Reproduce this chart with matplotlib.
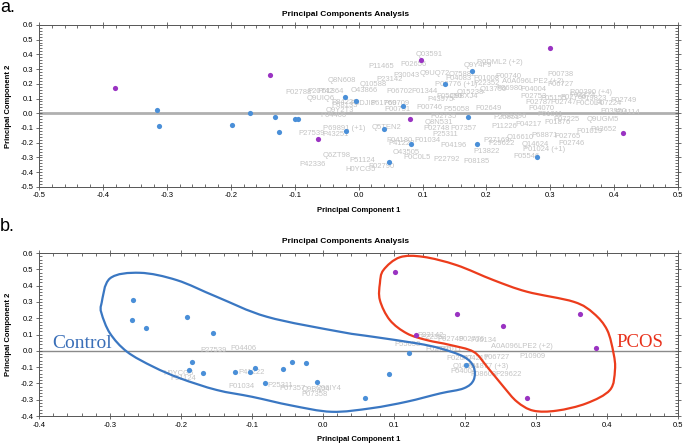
import numpy as np
import matplotlib
matplotlib.use("Agg")
import matplotlib.pyplot as plt
from matplotlib.path import Path
from matplotlib.patches import PathPatch
from matplotlib.ticker import MultipleLocator, FormatStrFormatter

plt.rcParams['font.family'] = ['Liberation Sans', 'DejaVu Sans']
plt.rcParams['axes.unicode_minus'] = False

# ---- panel a: scores ----
a_ctrl_x = [-0.316, -0.313, -0.198, -0.170, -0.131, -0.125, -0.100, -0.095, -0.022, -0.020,
            -0.004, 0.070, 0.135, 0.177, 0.171, 0.039, 0.082, 0.185, 0.047, 0.279]
a_ctrl_y = [0.023, -0.086, -0.079, 0.000, -0.025, -0.124, -0.040, -0.038, 0.113, -0.120,
            0.086, 0.048, 0.202, 0.290, -0.023, -0.108, -0.208, -0.208, -0.330, -0.294]
a_pcos_x = [-0.381, -0.139, -0.064, 0.098, 0.300, 0.081, 0.413]
a_pcos_y = [0.174, 0.263, -0.172, 0.360, 0.446, -0.040, -0.135]

# ---- panel a: loadings (protein labels) ----
a_lab = ["P11465", "Q8N608", "P02788", "P20742", "P61364", "Q9UIQ6", "P84228", "O43866",
         "Q10588", "P04406", "Q9Y2T3", "P69891 (+1)", "P27539", "P43251", "Q6ZT98", "P42336",
         "P51124", "H0YCG5", "P02790", "Q03591", "P02656", "P0DML2 (+2)", "Q9Y4F9", "Q9UQ72",
         "P30043", "O75882", "P04083", "P01008", "P00740", "P02776 (+1)", "P22352",
         "A0A096LPE2 (+2)", "Q13790", "P36980", "Q15238", "P05090", "Q9BXJ4", "P06702",
         "P01344", "P43975", "P60709", "P00746", "P02649", "P55058", "P20851", "Q8N531",
         "P02735", "Q5TEN2", "P07357", "P02748", "P25311", "P04180", "P41222", "P01034",
         "P04196", "P27169", "P29622", "P13822", "P22792", "P08185", "O43505", "P0C0L5",
         "P00738", "P06727", "P04004", "P00390 (+4)", "P02753", "P05155", "P02760", "P19823",
         "P02787", "P02747", "P0C0L4", "P07224", "P02749", "P03950", "P01011", "P04114",
         "P07225", "Q9UGM5", "P01019", "P43652", "P02765", "P02746", "Q14624", "P01024 (+1)",
         "P05546", "P68871", "Q16610", "P11226", "P04217", "P06396", "P23142", "P0DJI8",
         "P61769", "P00751", "P68133", "P04070", "P01876", "P02774"]
a_lab_x = [0.015, -0.048, -0.115, -0.080, -0.065, -0.081, -0.042, -0.013,
           0.002, -0.060, -0.052, -0.056, -0.095, -0.056, -0.056, -0.093,
           -0.015, -0.021, 0.016, 0.090, 0.066, 0.185, 0.164, 0.096,
           0.054, 0.141, 0.135, 0.180, 0.214, 0.120, 0.179,
           0.225, 0.190, 0.215, 0.153, 0.122, 0.143, 0.044,
           0.082, 0.107, 0.039, 0.091, 0.182, 0.133, 0.211, 0.104,
           0.112, 0.021, 0.143, 0.101, 0.115, 0.044, 0.047, 0.088,
           0.128, 0.195, 0.203, 0.180, 0.117, 0.164, 0.054, 0.070,
           0.295, 0.295, 0.253, 0.331, 0.253, 0.284, 0.315, 0.347,
           0.261, 0.300, 0.339, 0.370, 0.394, 0.378, 0.279, 0.400,
           0.304, 0.357, 0.341, 0.362, 0.307, 0.313, 0.255, 0.257,
           0.242, 0.271, 0.231, 0.208, 0.245, 0.222, 0.028, -0.013,
           0.018, 0.041, -0.042, 0.265, 0.290, 0.330]
a_lab_y = [0.317, 0.222, 0.143, 0.147, 0.147, 0.098, 0.072, 0.154,
           0.193, -0.018, 0.016, -0.106, -0.140, -0.145, -0.289, -0.350,
           -0.321, -0.380, -0.362, 0.401, 0.330, 0.344, 0.322, 0.272,
           0.254, 0.265, 0.238, 0.238, 0.249, 0.193, 0.200,
           0.215, 0.163, 0.166, 0.140, 0.113, 0.113, 0.147,
           0.147, 0.091, 0.068, 0.037, 0.034, 0.023, -0.027, -0.063,
           -0.022, -0.097, -0.101, -0.101, -0.147, -0.185, -0.203, -0.185,
           -0.221, -0.185, -0.208, -0.260, -0.312, -0.328, -0.267, -0.298,
           0.265, 0.193, 0.163, 0.140, 0.111, 0.098, 0.104, 0.098,
           0.070, 0.070, 0.064, 0.064, 0.084, 0.010, -0.011, 0.003,
           -0.045, -0.045, -0.124, -0.108, -0.158, -0.203, -0.215, -0.249,
           -0.294, -0.154, -0.165, -0.090, -0.079, -0.022, 0.231, 0.063,
           0.063, 0.023, 0.050, 0.035, -0.060, 0.120]

# ---- panel b: scores ----
b_ctrl_x = [-0.268, -0.269, -0.249, -0.192, -0.155, -0.184, -0.189, -0.169, -0.124, -0.103,
            -0.096, -0.082, -0.056, -0.044, -0.024, -0.008, 0.059, 0.093, 0.121, 0.201]
b_ctrl_y = [0.312, 0.189, 0.142, 0.209, 0.107, -0.067, -0.120, -0.134, -0.128, -0.128,
            -0.106, -0.198, -0.110, -0.071, -0.077, -0.190, -0.290, -0.140, -0.013, -0.085]
b_pcos_x = [0.101, 0.131, 0.189, 0.254, 0.362, 0.385, 0.287]
b_pcos_y = [0.486, 0.095, 0.226, 0.152, 0.226, 0.015, -0.290]

b_lab = ["P27539", "P04406", "H0YCG5", "P51124", "P41222", "P01034", "P25311", "P07357",
         "Q9BXJ4", "Q96IY4", "P07358", "P23142", "P22352", "P02749", "P02776", "P06134",
         "P55058", "P02766", "P01011", "A0A096LPE2 (+2)", "P02647", "P04217", "P06727",
         "P10909", "Q14624", "P01877 (+3)", "P04004", "P08603", "P29622"]
b_lab_x = [-0.173, -0.130, -0.225, -0.215, -0.119, -0.134, -0.079, -0.061,
           -0.030, -0.011, -0.030, 0.133, 0.137, 0.161, 0.190, 0.207,
           0.101, 0.144, 0.159, 0.236, 0.174, 0.196, 0.226,
           0.276, 0.183, 0.201, 0.179, 0.207, 0.242]
b_lab_y = [0.005, 0.015, -0.138, -0.169, -0.134, -0.220, -0.210, -0.230,
           -0.236, -0.230, -0.265, 0.097, 0.079, 0.072, 0.072, 0.066,
           0.036, 0.011, 0.011, 0.029, -0.046, -0.046, -0.040,
           -0.036, -0.098, -0.098, -0.128, -0.148, -0.148]

# hand-drawn group outlines (panel b)
ctrl_outline_x = [-0.312, -0.300, -0.258, -0.206, -0.150, -0.079, 0.024, 0.071, 0.132, 0.165,
                  0.198, 0.212, 0.212, 0.198, 0.165, 0.118, 0.068, 0.012, -0.045, -0.100,
                  -0.150, -0.201, -0.239, -0.276, -0.300, -0.312]
ctrl_outline_y = [0.291, 0.445, 0.479, 0.434, 0.332, 0.209, 0.117, 0.086, 0.046, 0.015,
                  -0.036, -0.098, -0.179, -0.230, -0.261, -0.312, -0.352, -0.374, -0.335, -0.282,
                  -0.240, -0.169, -0.098, -0.006, 0.107, 0.230]
pcos_outline_x = [0.085, 0.108, 0.141, 0.188, 0.240, 0.287, 0.353, 0.381, 0.400, 0.409,
                  0.411, 0.404, 0.371, 0.329, 0.296, 0.273, 0.254, 0.231, 0.212, 0.179,
                  0.146, 0.118, 0.094, 0.080, 0.080]
pcos_outline_y = [0.496, 0.574, 0.577, 0.526, 0.434, 0.363, 0.301, 0.230, 0.128, -0.015,
                  -0.118, -0.240, -0.322, -0.367, -0.367, -0.312, -0.220, -0.098, -0.006, 0.036,
                  0.066, 0.107, 0.189, 0.311, 0.414]

BLUE = '#4a8fd8'
PURPLE = '#9a33c2'
LABEL_GRAY = '#c4c4c4'


def closed_curve(xs, ys):
    # smooth closed outline through the points (Catmull-Rom as cubic Beziers)
    p = np.column_stack([xs, ys])
    n = len(p)
    verts = [p[0]]
    codes = [Path.MOVETO]
    for i in range(n):
        p0, p1, p2, p3 = p[i - 1], p[i], p[(i + 1) % n], p[(i + 2) % n]
        verts += [p1 + (p2 - p0) / 6, p2 - (p3 - p1) / 6, p2]
        codes += [Path.CURVE4] * 3
    return Path(verts, codes)


def style_axes(ax, xlim, ylim, zero_lw, zero_color):
    ax.set_xlim(*xlim)
    ax.set_ylim(*ylim)
    ax.axhline(0, color=zero_color, lw=zero_lw, zorder=1)
    ax.xaxis.set_major_locator(MultipleLocator(0.1))
    ax.yaxis.set_major_locator(MultipleLocator(0.1))
    ax.xaxis.set_minor_locator(MultipleLocator(0.02))
    ax.yaxis.set_minor_locator(MultipleLocator(0.02))
    ax.xaxis.set_major_formatter(FormatStrFormatter('%.1f'))
    ax.yaxis.set_major_formatter(FormatStrFormatter('%.1f'))
    ax.tick_params(which='both', top=True, right=True, labelsize=5.5, color='#555555', width=0.6)
    ax.tick_params(which='major', direction='inout', length=4, pad=2)
    ax.tick_params(which='minor', direction='in', length=2)
    for s in ax.spines.values():
        s.set_color('#555555')
        s.set_linewidth(0.7)


def draw_panel(ax, cx, cy, px, py, labs, lx, ly):
    for t, x, y in zip(labs, lx, ly):
        ax.text(x, y, t, fontsize=5.5, color=LABEL_GRAY, va='center', ha='left',
                zorder=2, clip_on=True)
    ax.scatter(cx, cy, s=14, color=BLUE, zorder=4, linewidths=0)
    ax.scatter(px, py, s=14, color=PURPLE, zorder=4, linewidths=0)


fig = plt.figure(figsize=(6.85, 4.44), dpi=100)

ax1 = fig.add_axes([0.057, 0.579, 0.933, 0.365])
style_axes(ax1, (-0.5, 0.5), (-0.5, 0.6), 2.0, '#b0b0b0')
draw_panel(ax1, a_ctrl_x, a_ctrl_y, a_pcos_x, a_pcos_y, a_lab, a_lab_x, a_lab_y)

ax2 = fig.add_axes([0.057, 0.063, 0.933, 0.367])
style_axes(ax2, (-0.4, 0.5), (-0.4, 0.6), 1.0, '#8a8a8a')
draw_panel(ax2, b_ctrl_x, b_ctrl_y, b_pcos_x, b_pcos_y, b_lab, b_lab_x, b_lab_y)
ax2.add_patch(PathPatch(closed_curve(ctrl_outline_x, ctrl_outline_y), fill=False,
                        edgecolor='#3a77c2', lw=1.6, zorder=3))
ax2.add_patch(PathPatch(closed_curve(pcos_outline_x, pcos_outline_y), fill=False,
                        edgecolor='#ec3c1c', lw=1.6, zorder=3))
ax2.text(-0.382, 0.017, "Control", family=['Liberation Serif', 'DejaVu Serif'],
         fontsize=14, color='#3a6fb8', va='baseline', ha='left', zorder=5)
ax2.text(0.413, 0.024, "PCOS", family=['Liberation Serif', 'DejaVu Serif'],
         fontsize=13.5, color='#e8301a', va='baseline', ha='left', zorder=5)

for ax, ty, xy in [(ax1, 0.968, 0.525), (ax2, 0.455, 0.011)]:
    fig.text(0.504, ty, "Principal Components Analysis", fontsize=6, weight='bold',
             ha='center', va='center')
    fig.text(0.523, xy, "Principal Component 1", fontsize=5.5, weight='bold',
             ha='center', va='center')
    pos = ax.get_position()
    fig.text(0.012, pos.y0 + pos.height / 2, "Principal Component 2", fontsize=5.5,
             weight='bold', rotation=90, ha='center', va='center')

fig.text(0.0, 0.972, "a.", fontsize=13, ha='left', va='baseline')
fig.text(0.0, 0.480, "b.", fontsize=13, ha='left', va='baseline')

fig.savefig("out.png", dpi=100)
